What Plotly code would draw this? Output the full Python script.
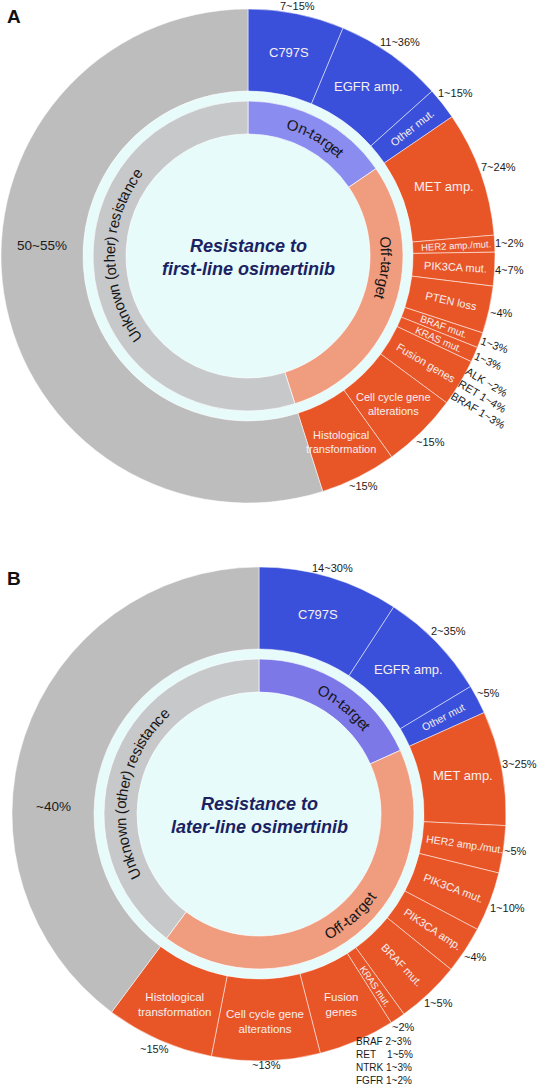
import math
import plotly.graph_objects as go

W, H = 540, 1087

# ---------------- DATA : panel A (first-line osimertinib) ----------------
a_seg_labels = ["C797S", "EGFR amp.", "Other mut.", "MET amp.", "HER2 amp./mut.",
                "PIK3CA mut.", "PTEN loss", "BRAF mut.", "KRAS mut.", "Fusion genes",
                "Cell cycle gene<br>alterations", "Histological<br>transformation", ""]
a_seg_values = [6.3, 7.1, 2.1, 8.2, 1.1, 2.2, 3.1, 1.0, 1.0, 3.1, 5.0, 5.0, 55.0]
a_seg_groups = ["on", "on", "on", "off", "off", "off", "off", "off", "off", "off", "off", "off", "unk"]
a_seg_pct = ["7~15%", "11~36%", "1~15%", "7~24%", "1~2%", "4~7%", "~4%", "1~3%", "1~3%",
             "ALK ~2%<br>RET 1~4%<br>BRAF 1~3%", "~15%", "~15%", "50~55%"]
a_center_title = "Resistance to<br>first-line osimertinib"

# ---------------- DATA : panel B (later-line osimertinib) ----------------
b_seg_labels = ["C797S", "EGFR amp.", "Other mut", "MET amp.", "HER2 amp./mut.",
                "PIK3CA mut.", "PIK3CA amp.", "BRAF mut.", "KRAS mut.", "Fusion<br>genes",
                "Cell cycle gene<br>alterations", "Histological<br>transformation", ""]
b_seg_values = [9.2, 7.2, 1.9, 7.5, 3.1, 3.9, 3.1, 4.2, 1.0, 5.0, 7.1, 7.1, 39.9]
b_seg_groups = ["on", "on", "on", "off", "off", "off", "off", "off", "off", "off", "off", "off", "unk"]
b_seg_pct = ["14~30%", "2~35%", "~5%", "3~25%", "~5%", "1~10%", "~4%", "1~5%", "~2%",
             "BRAF 2~3%<br>RET\u00a0\u00a0\u00a0 1~5%<br>NTRK 1~3%<br>FGFR 1~2%",
             "~13%", "~15%", "~40%"]
b_center_title = "Resistance to<br>later-line osimertinib"

group_keys = ["on", "off", "unk"]
group_names = ["On-target", "Off-target", "Unknown (other) resistance"]
panel_letters = ["A", "B"]

# ---------------- STYLE ----------------
FONT = "Arial, 'Liberation Sans', Helvetica, sans-serif"
OUTER_COLORS = {"on": "#3a50da", "off": "#e85628", "unk": "#bdbdbd"}
INNER_COLORS = [
    {"on": "#8b8cef", "off": "#ef9c7f", "unk": "#c7c8ca"},
    {"on": "#7c78e8", "off": "#ef9c7f", "unk": "#c7c8ca"},
]
DISK_COLOR = "#e7fbfb"
IN_LABEL_COLOR = "#f7eeee"
TITLE_COLOR = "#1b2262"
RING_FONT_SIZE = 15

R_OUT, R_OUT_IN, R_IN, R_IN_IN = 247, 165, 155, 122

# Arial / Liberation Sans advance widths (em) for the curved ring labels
CHAR_W = {" ": .278, "(": .333, ")": .333, "-": .333, "O": .778, "U": .722,
          "a": .556, "c": .5, "e": .556, "f": .278, "g": .556, "h": .556, "i": .222,
          "k": .5, "n": .556, "o": .556, "r": .333, "s": .5, "t": .278, "w": .722}

panels = [
    dict(cx=248, cy=256, letter_xy=(5, 4),
         labels=a_seg_labels, values=a_seg_values, groups=a_seg_groups, pct=a_seg_pct,
         title=a_center_title,
         orient=["h", "h", "r", "h", "r", "r", "r", "r", "r", "r", "h", "h", None],
         isize=[13, 13, 11, 13, 9.5, 11, 11, 10, 10, 11, 11, 11, 0],
         omode=["h", "h", "h", "h", "h", "h", "h", "r", "r", "r", "h", "h", "in"],
         osize=[11, 11, 11, 11, 11, 11, 11, 11, 11, 11, 11, 11, 13.5],
         unk_angle=273, ring_label_shift=[2, -14, 9]),
    dict(cx=259, cy=814, letter_xy=(5, 566),
         labels=b_seg_labels, values=b_seg_values, groups=b_seg_groups, pct=b_seg_pct,
         title=b_center_title,
         orient=["h", "h", "r", "h", "r", "r", "r", "r", "r", "h", "h", "h", None],
         isize=[13, 13, 10.5, 13, 10.5, 11, 11, 11, 9.5, 11.5, 11.5, 11.5, 0],
         omode=["h", "h", "h", "h", "h", "h", "h", "h", "h", "block", "h", "h", "in"],
         osize=[11, 11, 11, 11, 11, 11, 11, 11, 11, 10, 11, 11, 13.5],
         unk_angle=272, ring_label_shift=[6, -3, -8]),
]


def dom(cx, cy, r):
    return dict(x=[(cx - r) / W, (cx + r) / W], y=[1 - (cy + r) / H, 1 - (cy - r) / H])


def px2paper(x, y):
    return x / W, 1 - y / H


def polar(cx, cy, r, theta):
    t = math.radians(theta)
    return cx + r * math.sin(t), cy - r * math.cos(t)


def curved_text(text, cx, cy, r, center_deg, size, color):
    """Lay a label along a circle, one glyph per annotation."""
    out = []
    flip = 100 < center_deg % 360 < 260
    widths = [CHAR_W.get(ch, .55) * size for ch in text]
    total = sum(widths)
    span = math.degrees(total / r)
    acc = 0.0
    for ch, w in zip(text, widths):
        off = math.degrees((acc + w / 2) / r) - span / 2
        acc += w
        if ch == " ":
            continue
        th = center_deg - off if flip else center_deg + off
        x, y = polar(cx, cy, r, th)
        ang = th - 180 if flip else th
        xp, yp = px2paper(x, y)
        out.append(dict(x=xp, y=yp, xref="paper", yref="paper", text=ch, showarrow=False,
                        textangle=ang, xanchor="center", yanchor="middle",
                        font=dict(family=FONT, size=size, color=color)))
    return out


fig = go.Figure()
annotations = []

for pi, p in enumerate(panels):
    cx, cy = p["cx"], p["cy"]
    vals = p["values"]
    tot = sum(vals)
    mids, acc = [], 0.0
    for v in vals:
        mids.append((acc + v / 2) / tot * 360)
        acc += v
    inner_vals = [sum(v for v, g in zip(vals, p["groups"]) if g == k) for k in group_keys]
    inner_mids, acc = [], 0.0
    for v in inner_vals:
        inner_mids.append((acc + v / 2) / tot * 360)
        acc += v

    # background disk
    fig.add_trace(go.Pie(values=[1], labels=["bg"], domain=dom(cx, cy, R_OUT_IN), hole=0,
                         marker=dict(colors=[DISK_COLOR], line=dict(width=0)),
                         textinfo="none", hoverinfo="skip", sort=False, showlegend=False))
    # inner ring
    fig.add_trace(go.Pie(values=inner_vals, labels=group_names, domain=dom(cx, cy, R_IN),
                         hole=R_IN_IN / R_IN, sort=False, direction="clockwise", rotation=0,
                         marker=dict(colors=[INNER_COLORS[pi][k] for k in group_keys],
                                     line=dict(color="rgba(255,255,255,0.8)", width=0.8)),
                         textinfo="none", hoverinfo="label", showlegend=False))
    # outer ring
    fig.add_trace(go.Pie(values=vals, labels=[f"{pi}-{i}" for i in range(len(vals))],
                         domain=dom(cx, cy, R_OUT),
                         hole=R_OUT_IN / R_OUT, sort=False, direction="clockwise", rotation=0,
                         marker=dict(colors=[OUTER_COLORS[g] for g in p["groups"]],
                                     line=dict(color="rgba(255,255,255,0.7)", width=0.7)),
                         textinfo="none", hoverinfo="skip", showlegend=False))

    # curved labels of the inner ring
    r_ring = (R_IN + R_IN_IN) / 2
    for name, th, sh in zip(group_names, inner_mids, p["ring_label_shift"]):
        annotations += curved_text(name, cx, cy, r_ring, th + sh, RING_FONT_SIZE, "#161616")

    # inside labels of the outer ring
    r_mid = (R_OUT + R_OUT_IN) / 2 + 2
    for lab, th, o, fs in zip(p["labels"], mids, p["orient"], p["isize"]):
        if not lab or o is None:
            continue
        x, y = polar(cx, cy, r_mid, th)
        ang = 0
        if o == "r":
            ang = th - 90 if th <= 180 else th - 270
        xp, yp = px2paper(x, y)
        annotations.append(dict(x=xp, y=yp, xref="paper", yref="paper", text=lab,
                                showarrow=False, textangle=ang, xanchor="center", yanchor="middle",
                                font=dict(family=FONT, size=fs, color=IN_LABEL_COLOR)))

    # outside percentage labels
    for txt, th, mode, fs in zip(p["pct"], mids, p["omode"], p["osize"]):
        lines = txt.split("<br>")
        w = max(len(l) for l in lines) * 0.55 * fs
        h = len(lines) * 1.25 * fs
        s, c = abs(math.sin(math.radians(th))), abs(math.cos(math.radians(th)))
        kw = dict(xanchor="center", yanchor="middle", textangle=0, align="left")
        if mode == "h":
            r = R_OUT + 3 * s + w / 2 * s + 0.3 * h * c
            x, y = polar(cx, cy, r, th)
        elif mode == "r":
            r = R_OUT + 3 + w / 2
            x, y = polar(cx, cy, r, th)
            kw["textangle"] = th - 90
        elif mode == "block":
            x, y = polar(cx, cy, R_OUT - 7, th)
            kw.update(xanchor="left", yanchor="top")
        else:  # inside the grey ring
            x, y = polar(cx, cy, (R_OUT + R_OUT_IN) / 2, p["unk_angle"])
        xp, yp = px2paper(x, y)
        annotations.append(dict(x=xp, y=yp, xref="paper", yref="paper", text=txt,
                                showarrow=False, font=dict(family=FONT, size=fs, color="#1a1a1a"),
                                **kw))

    # centre title
    xp, yp = px2paper(cx, cy + 1)
    annotations.append(dict(x=xp, y=yp, xref="paper", yref="paper",
                            text="<b><i>" + p["title"] + "</i></b>", showarrow=False,
                            xanchor="center", yanchor="middle",
                            font=dict(family=FONT, size=18, color=TITLE_COLOR)))
    # panel letter
    lx, ly = px2paper(*p["letter_xy"])
    annotations.append(dict(x=lx, y=ly, xref="paper", yref="paper",
                            text="<b>" + panel_letters[pi] + "</b>", showarrow=False,
                            xanchor="left", yanchor="top",
                            font=dict(family=FONT, size=19, color="#111111")))

fig.update_layout(width=W, height=H, margin=dict(l=0, r=0, t=0, b=0),
                  paper_bgcolor="white", plot_bgcolor="white",
                  annotations=annotations, showlegend=False)

fig.write_html("out.html", config={"displayModeBar": False},
               post_script="document.body.style.margin='0px';")
